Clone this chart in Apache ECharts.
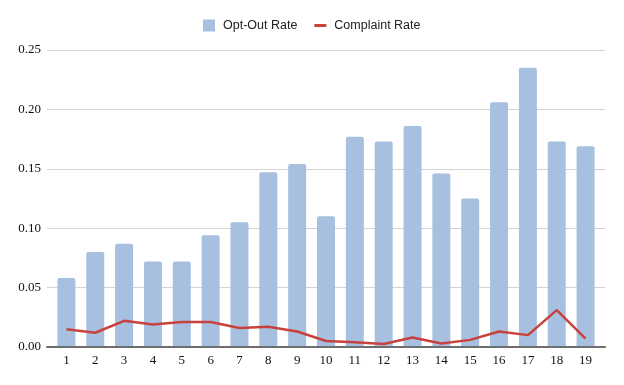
<!DOCTYPE html>
<html>
<head>
<meta charset="utf-8">
<script src="https://cdn.jsdelivr.net/npm/echarts@6/dist/echarts.min.js"></script>
<style>html,body{margin:0;padding:0;background:#fff}#c{width:624px;height:385px}</style>
</head>
<body>
<div id="c"></div>
<script>
var categories = ['1','2','3','4','5','6','7','8','9','10','11','12','13','14','15','16','17','18','19'];
var optOutRate = [0.058,0.080,0.087,0.072,0.072,0.094,0.105,0.147,0.154,0.110,0.177,0.173,0.186,0.146,0.125,0.206,0.235,0.173,0.169];
var complaintRate = [0.015,0.012,0.022,0.019,0.021,0.021,0.016,0.017,0.013,0.005,0.004,0.0025,0.008,0.003,0.006,0.013,0.010,0.031,0.007];
var yTicks = {min: 0, max: 0.25, interval: 0.05};

var chart = echarts.init(document.getElementById('c'));
chart.setOption({
  animation: false,
  legend: {
    left: 203, top: 19, padding: 0, itemWidth: 12, itemHeight: 12, itemGap: 17,
    textStyle: {fontFamily: 'Liberation Sans', fontSize: 12.5, color: '#222', padding: [0,0,0,3]},
    data: [
      {name: 'Opt-Out Rate', icon: 'rect'},
      {name: 'Complaint Rate', icon: 'path://M0,0 L12,0 L12,3 L0,3 Z'}
    ]
  },
  grid: [
    {left: 47, right: 19, top: 50, bottom: 38},
    {left: 52, right: 24, top: 50, bottom: 38}
  ],
  xAxis: [
    {gridIndex: 0, type: 'value', min: 0, max: 1, show: true, z: 10,
     axisLine: {show: true, onZero: false, lineStyle: {color: '#6e6e6e', width: 2}},
     axisTick: {show: false}, axisLabel: {show: false}, splitLine: {show: false}},
    {gridIndex: 1, type: 'category', data: categories,
     axisLine: {show: false}, axisTick: {show: false},
     axisLabel: {fontFamily: 'Liberation Serif', fontSize: 13, color: '#111', margin: 7}}
  ],
  yAxis: [
    {gridIndex: 0, type: 'value', min: yTicks.min, max: yTicks.max, interval: yTicks.interval,
     axisLine: {show: false}, axisTick: {show: false},
     axisLabel: {fontFamily: 'Liberation Serif', fontSize: 13, color: '#111', margin: 6,
       formatter: function (v) { return v.toFixed(2); }},
     splitLine: {lineStyle: {color: '#d3d3d3', width: 1}}},
    {gridIndex: 1, type: 'value', min: yTicks.min, max: yTicks.max, interval: yTicks.interval,
     show: false, splitLine: {show: false}}
  ],
  series: [
    {name: 'Opt-Out Rate', type: 'bar', xAxisIndex: 1, yAxisIndex: 1, data: optOutRate,
     barWidth: 18, itemStyle: {color: '#a7c0df', borderRadius: [2,2,0,0]}, z: 2},
    {name: 'Complaint Rate', type: 'line', xAxisIndex: 1, yAxisIndex: 1, data: complaintRate,
     symbol: 'none', lineStyle: {color: '#c8413d', width: 2.5}, itemStyle: {color: '#c8413d'}, z: 3}
  ]
});
</script>
</body>
</html>
